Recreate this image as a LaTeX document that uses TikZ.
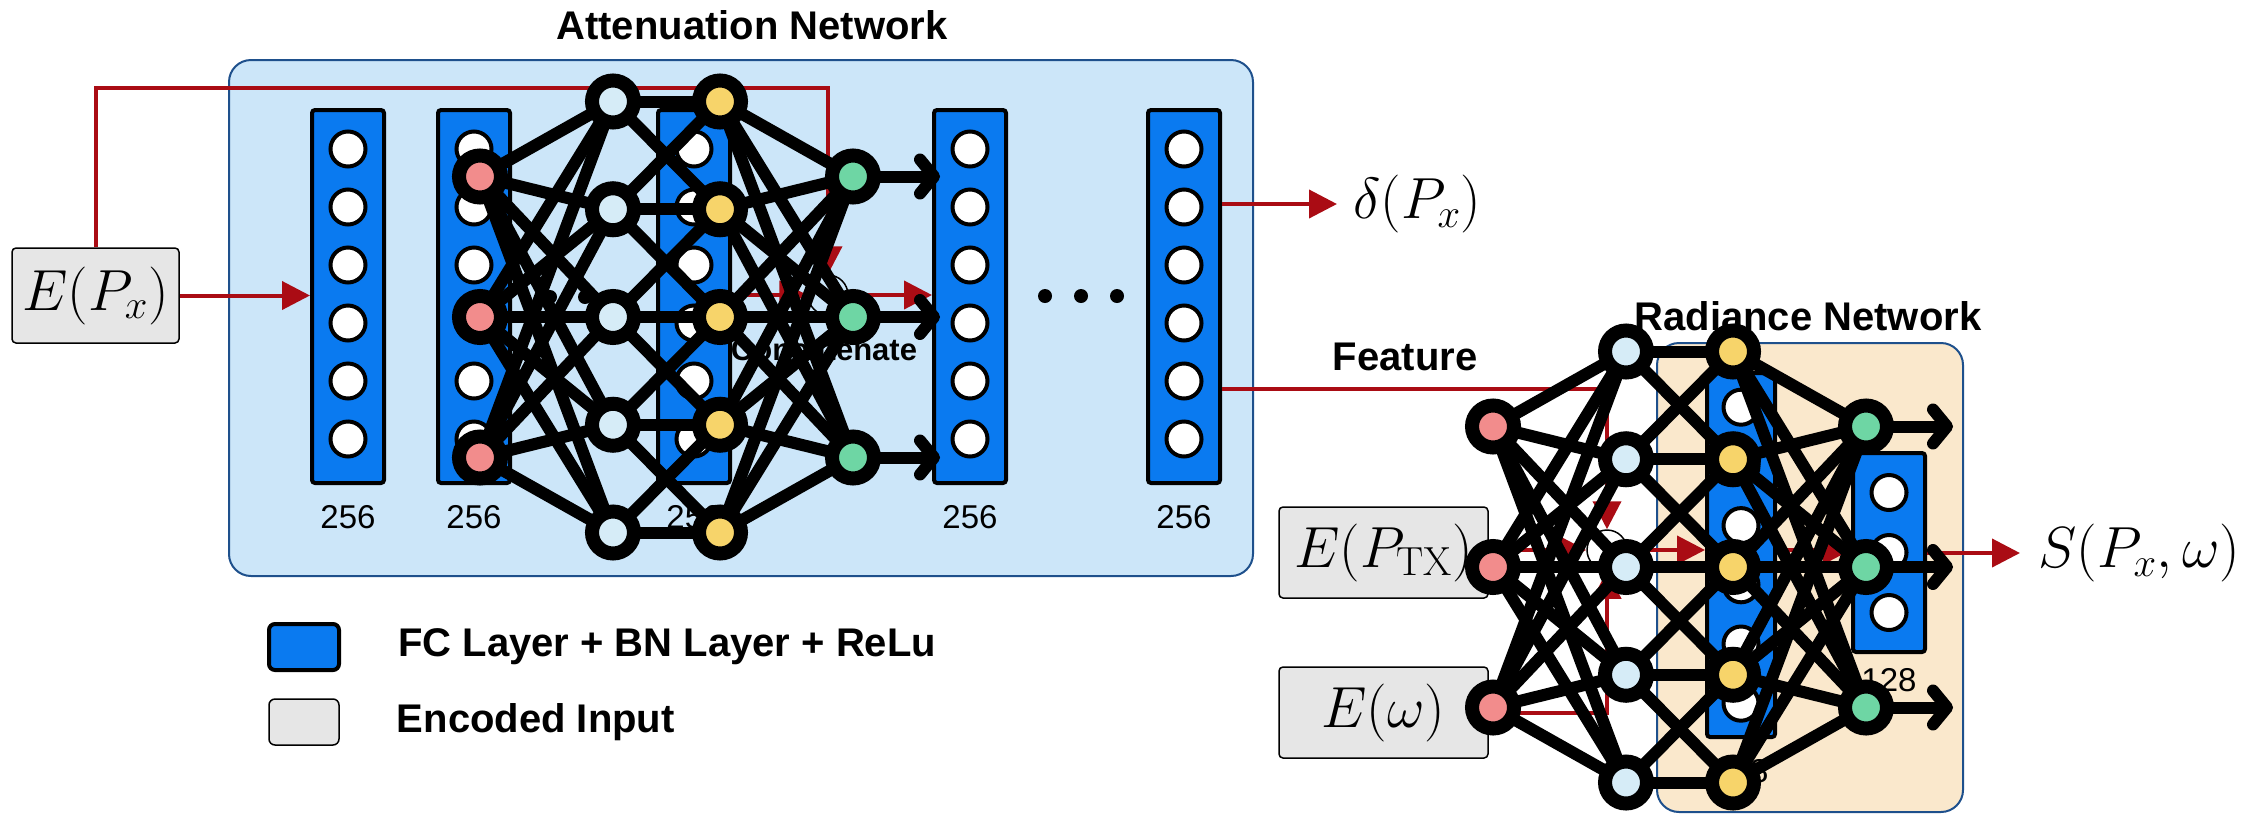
\RequirePackage{fix-cm}
\documentclass[tikz,border=0pt]{standalone}
\usepackage{amsmath}
\usepackage{fontspec}
\setsansfont{Liberation Sans}
\usetikzlibrary{calc,positioning,arrows.meta}
\pgfdeclarelayer{front}
\pgfsetlayers{main,front}

\definecolor{attbg}{RGB}{204,230,249}
\definecolor{radbg}{RGB}{250,232,204}
\definecolor{boxline}{RGB}{30,80,140}
\definecolor{fcblue}{RGB}{10,122,240}
\definecolor{encgray}{RGB}{230,230,230}
\definecolor{arrred}{RGB}{170,12,20}
\definecolor{nnred}{RGB}{242,140,140}
\definecolor{nnblue}{RGB}{214,236,247}
\definecolor{nnyellow}{RGB}{247,212,106}
\definecolor{nngreen}{RGB}{110,214,164}

\begin{document}
\begin{tikzpicture}[
x=1pt, y=-1pt,
netbox/.style={draw=boxline, line width=2pt, rounded corners=22pt, inner sep=0pt},
fclayer/.style={draw=black, line width=4pt, fill=fcblue, rounded corners=3pt,
	minimum width=72pt, inner sep=0pt},
unit/.style={circle, draw=black, line width=4pt, fill=white, minimum size=35pt, inner sep=0pt},
encbox/.style={draw=black, line width=1.5pt, fill=encgray, rounded corners=4pt,
	inner sep=0pt, font=\fontsize{58}{60}\selectfont},
mathlbl/.style={font=\fontsize{58}{60}\selectfont, inner sep=0pt},
dimlbl/.style={font=\sffamily\fontsize{33}{35}\selectfont, inner sep=0pt},
title/.style={font=\sffamily\bfseries\fontsize{40}{44}\selectfont, inner sep=0pt},
catlbl/.style={font=\sffamily\bfseries\fontsize{31}{33}\selectfont, inner sep=0pt},
dot/.style={circle, fill=black, minimum size=14pt, inner sep=0pt},
concat/.style={circle, draw=black, line width=1.5pt, minimum size=40pt, inner sep=0pt},
flow/.style={draw=arrred, line width=4pt, -{Triangle[length=28pt,width=28pt]}},
nnode/.style={circle, draw=black, line width=14pt, minimum size=42pt, inner sep=0pt, outer sep=0pt},
nnedge/.style={draw=black, line width=12pt},
nnout/.style={draw=black, line width=12pt, -{Straight Barb[round,length=14pt,width=34pt]}}
]
\useasboundingbox (0,0) rectangle (2241,815);

% attenuation network
\node[netbox, fill=attbg, minimum width=1024pt, minimum height=516pt] (att) at (741,318) {};
\node[title] (attT) at (752,25) {Attenuation Network};
\foreach \n/\x in {1/348,2/474,3/694,4/970,5/1184}
{
	\node[fclayer, minimum height=373pt] (L\n) at (\x,296.5) {};
	\foreach \k in {1,...,6}
		\node[unit] (L\n-\k) at ({\x},{91+58*\k}) {};
	\node[dimlbl, below=20pt of L\n] (L\n n) {256};
}
\foreach \x in {550,585}
	\node[dot] (dA\x) at (\x,297) {};
\foreach \x in {1045,1081,1117}
	\node[dot] (dB\x) at (\x,296) {};

\node[encbox, minimum width=167pt, minimum height=95pt] (Epx) at (95.5,295.5) {$E(P_x)$};
\node[concat] (catA) at (828,295) {};
\node[catlbl] (catAl) at (824,350) {Concatenate};
\coordinate (attTop) at (96,88);
\draw[flow] (Epx.east) -- (Epx.east -| L1.west);
\draw[flow] (Epx.north) -- (Epx.north |- attTop) -| (catA.north);
\draw[flow] (catA -| L3.east) -- (catA.west);
\draw[flow] (catA.east) -- (catA -| L4.west);
\node[mathlbl, anchor=west] (delta) at (1353,204) {$\delta(P_x)$};
\draw[flow] (delta.west -| L5.east) -- ([xshift=-16pt]delta.west);

% radiance network
\node[netbox, fill=radbg, minimum width=306pt, minimum height=469pt] (rad) at (1810,577.5) {};
\node[title] (radT) at (1808,316) {Radiance Network};
\node[fclayer, minimum width=68pt, minimum height=364pt] (R1) at (1741,555) {};
\foreach \k in {1,...,6}
	\node[unit] (R1-\k) at (1741,{348+59.2*\k}) {};
\node[dimlbl, below=20pt of R1] (R1n) {128};
\node[fclayer, minimum height=199pt] (R2) at (1889,552.5) {};
\foreach \k in {1,2,3}
	\node[unit] (R2-\k) at (1889,{432.5+60*\k}) {};
\node[dimlbl, below=14pt of R2] (R2n) {128};

\node[encbox, minimum width=209pt, minimum height=91pt] (Etx) at (1383.5,552.5) {$E(P_{\mathrm{TX}})$};
\node[encbox, minimum width=209pt, minimum height=91pt] (Eom) at (1383.5,712.5) {$E(\omega)$};
\node[concat] (catB) at (1607,550) {};
\coordinate (featTurn) at (1607,389);
\coordinate (omTurn) at (1607,713);
\node[title] (featL) at (1405,357) {Feature};
\draw[flow] (featTurn -| L5.east) -- (featTurn) -- (catB.north);
\draw[flow] (Etx.east |- catB) -- (catB.west);
\draw[flow] (Eom.east |- omTurn) -- (omTurn) -- (catB.south);
\draw[flow] (catB.east) -- (catB -| R1.west);
\draw[flow] (catB -| R1.east) -- (catB -| R2.west);
\node[mathlbl, anchor=west] (Sout) at (2038,553) {$S(P_x,\omega)$};
\draw[flow] (Sout.west -| R2.east) -- ([xshift=-18pt]Sout.west);

% legend
\node[fclayer, minimum width=70pt, minimum height=46pt, rounded corners=6pt] (legFC) at (304,647) {};
\node[encbox, minimum width=70pt, minimum height=46pt, rounded corners=6pt] (legEnc) at (304,722) {};
\node[title, right=57pt of legFC] (legFCt) {FC Layer + BN Layer + ReLu};
\node[title, right=57pt of legEnc] (legEnct) {Encoded Input};

% network icons on top
\begin{pgfonlayer}{front}
\foreach \nn/\dx/\dy in {a/0/0,b/1013/250}
{
	\foreach \i in {1,2,3}
	{
		\node[nnode, fill=nnred] (\nn r\i) at ({480+\dx},{36+140.5*\i+\dy}) {};
		\node[nnode, fill=nngreen] (\nn g\i) at ({853+\dx},{36+140.5*\i+\dy}) {};
		\coordinate (\nn o\i) at ({940+\dx},{36+140.5*\i+\dy});
	}
	\foreach \j in {1,...,5}
	{
		\node[nnode, fill=nnblue] (\nn b\j) at ({613+\dx},{-6.25+107.75*\j+\dy}) {};
		\node[nnode, fill=nnyellow] (\nn y\j) at ({720+\dx},{-6.25+107.75*\j+\dy}) {};
	}
}
\end{pgfonlayer}
\foreach \nn in {a,b}
{
	\foreach \i in {1,2,3}
		\foreach \j in {1,...,5}
		{
			\draw[nnedge] (\nn r\i) -- (\nn b\j);
			\draw[nnedge] (\nn y\j) -- (\nn g\i);
		}
	\foreach \j in {1,...,5}
		\draw[nnedge] (\nn b\j) -- (\nn y\j);
	\foreach \j in {1,...,4}
	{
		\pgfmathsetmacro\next{int(\j + 1)}
		\draw[nnedge] (\nn b\j) -- (\nn y\next);
		\draw[nnedge] (\nn b\next) -- (\nn y\j);
	}
	\foreach \i in {1,2,3}
		\draw[nnout] (\nn g\i) -- (\nn o\i);
}
\end{tikzpicture}
\end{document}
